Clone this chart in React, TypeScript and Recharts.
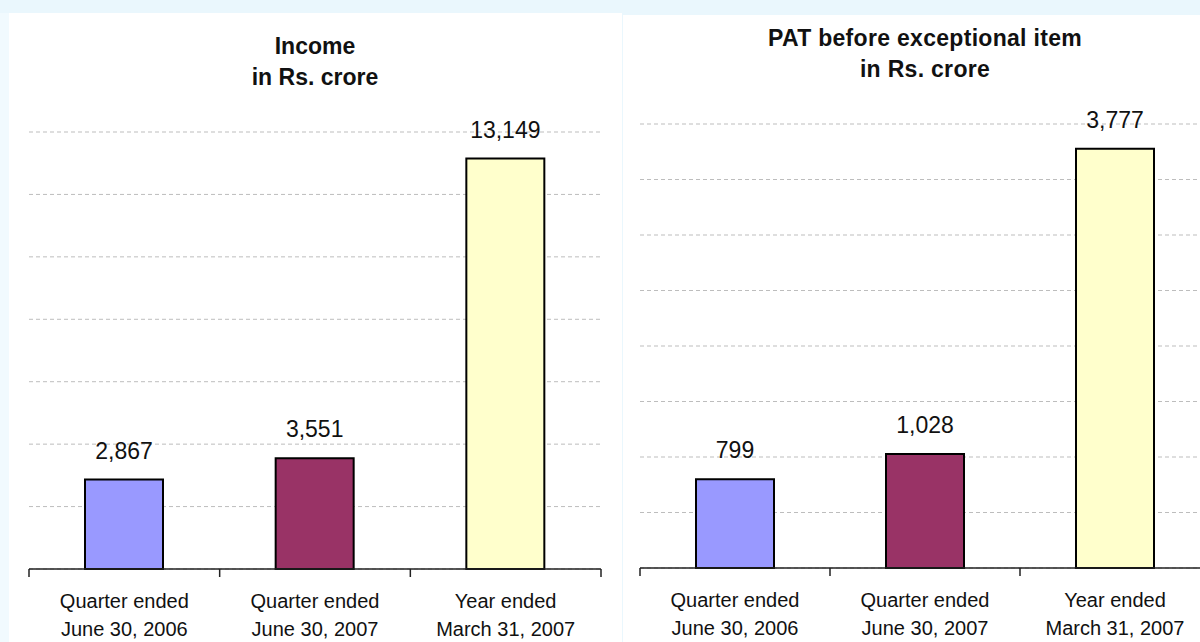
import React from "react";
import { BarChart, Bar, XAxis, YAxis, CartesianGrid, Cell, LabelList } from "recharts";

// Two Excel-style column charts side by side: Income and PAT, Rs. crore.
const CATEGORY_LINE1 = ["Quarter ended", "Quarter ended", "Year ended"];
const CATEGORY_LINE2 = ["June 30, 2006", "June 30,  2007", "March 31, 2007"];
const INCOME = [2867, 3551, 13149];
const PAT = [799, 1028, 3777];
const BAR_FILLS = ["#9999FF", "#993366", "#FFFFCC"];
const INCOME_TICKS = [0, 2000, 4000, 6000, 8000, 10000, 12000, 14000];
const PAT_TICKS = [0, 500, 1000, 1500, 2000, 2500, 3000, 3500, 4000];

const FONT = "'Liberation Sans', Arial, sans-serif";
const INK = "#111";
const AXIS = "#222";

type TickProps = {
  x?: number;
  y?: number;
  index?: number;
  payload?: { value?: string; offset?: number; index?: number };
  half: number;
  count: number;
};

function TwoLineTick({ x = 0, y = 0, payload, index, half, count }: TickProps) {
  const i = payload?.index ?? index ?? 0;
  const h = payload?.offset && payload.offset > 0 ? payload.offset : half;
  return (
    <g>
      <line x1={x - h} x2={x - h} y1={y} y2={y + 8} stroke={AXIS} strokeWidth={1.5} />
      {i === count - 1 && <line x1={x + h} x2={x + h} y1={y} y2={y + 8} stroke={AXIS} strokeWidth={1.5} />}
      <text x={x} y={y} textAnchor="middle" fontFamily={FONT} fontSize={20} fill={INK}>
        <tspan x={x} dy={39}>{CATEGORY_LINE1[i]}</tspan>
        <tspan x={x} dy={28}>{CATEGORY_LINE2[i]}</tspan>
      </text>
    </g>
  );
}

function Panel(props: {
  values: number[];
  ticks: number[];
  width: number;
  height: number;
  margin: { top: number; right: number; bottom: number; left: number };
}) {
  const data = props.values.map((v, i) => ({ name: CATEGORY_LINE1[i] + " " + CATEGORY_LINE2[i], value: v }));
  const plotW = props.width - props.margin.left - props.margin.right;
  const half = plotW / data.length / 2;
  return (
    <BarChart width={props.width} height={props.height} data={data} margin={props.margin} barSize={78}>
      <CartesianGrid vertical={false} stroke="#bdbdbd" strokeDasharray="4 3" />
      <YAxis hide domain={[0, props.ticks[props.ticks.length - 1]]} ticks={props.ticks} />
      <XAxis
        dataKey="name"
        height={60}
        interval={0}
        axisLine={{ stroke: AXIS, strokeWidth: 1.5 }}
        tickLine={false}
        tickSize={0}
        tickMargin={0}
        tick={<TwoLineTick half={half} count={data.length} />}
      />
      <Bar dataKey="value" stroke="#000" strokeWidth={2} isAnimationActive={false}>
        {data.map((_, i) => (
          <Cell key={i} fill={BAR_FILLS[i]} />
        ))}
        <LabelList
          dataKey="value"
          position="top"
          offset={21}
          formatter={(v: any) => Number(v).toLocaleString("en-US")}
          style={{ fontFamily: FONT, fontSize: 23, fill: INK }}
        />
      </Bar>
    </BarChart>
  );
}

const titleStyle: React.CSSProperties = {
  position: "absolute",
  width: 500,
  textAlign: "center",
  fontFamily: FONT,
  fontWeight: 700,
  fontSize: 23,
  lineHeight: "31px",
  color: INK,
};

export default function App() {
  return (
    <div
      style={{
        position: "fixed",
        left: 0,
        top: 0,
        width: 1200,
        height: 642,
        overflow: "hidden",
        background: "#eaf7fd",
      }}
    >
      <div style={{ position: "absolute", left: 0, top: 13, width: 9, height: 629, background: "#f1fafe" }} />
      {/* Income */}
      <div style={{ position: "absolute", left: 9, top: 13, width: 613, height: 629, background: "#fff" }}>
        <Panel values={INCOME} ticks={INCOME_TICKS} width={613} height={629} margin={{ top: 119, right: 21, bottom: 13, left: 20 }} />
      </div>
      <div style={{ ...titleStyle, left: 315 - 250, top: 31 }}>
        Income
        <br />
        in Rs. crore
      </div>
      {/* PAT */}
      <div style={{ position: "absolute", left: 623, top: 15, width: 610, height: 627, background: "#fff" }}>
        <Panel values={PAT} ticks={PAT_TICKS} width={610} height={627} margin={{ top: 109, right: 23, bottom: 14, left: 17 }} />
      </div>
      <div style={{ ...titleStyle, left: 925 - 250, top: 23, letterSpacing: "0.3px" }}>
        PAT before exceptional item
        <br />
        in Rs. crore
      </div>
    </div>
  );
}
